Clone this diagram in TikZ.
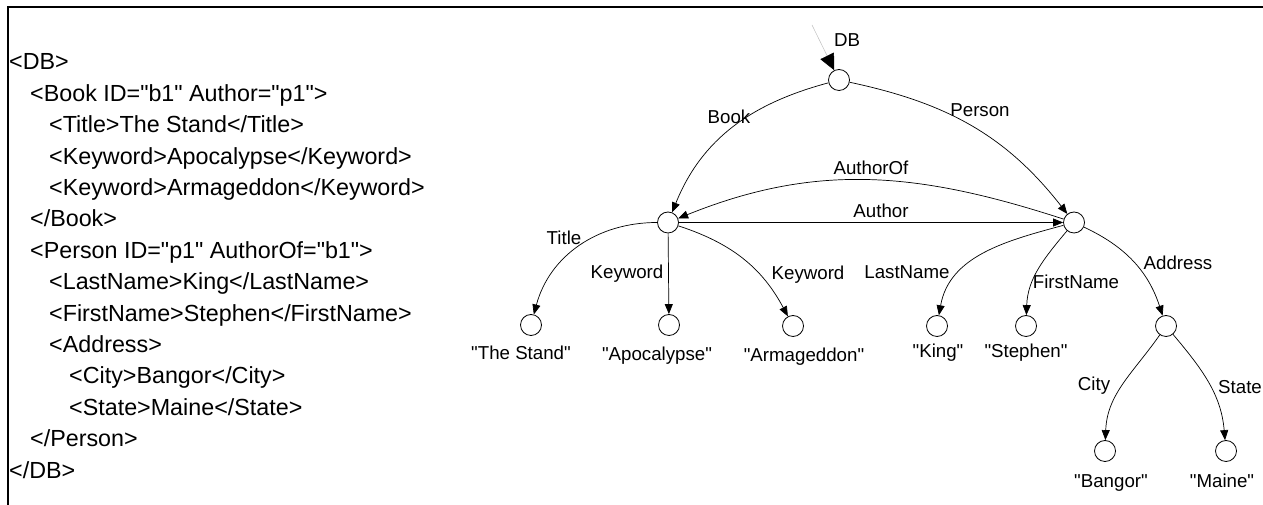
\documentclass[tikz,border=0pt]{standalone}
\usepackage{fontspec}
\setmainfont{Liberation Sans}
% plain families keep the ASCII double quote straight
\newfontfamily\xmlfont{Liberation Sans}
\newfontfamily\treefont{Liberation Sans}
\usetikzlibrary{arrows.meta}

\begin{document}
\begin{tikzpicture}[x=1pt,y=1pt,
  vertex/.style={circle,draw,line width=0.8pt,minimum size=21pt,inner sep=0pt},
  lbl/.style={font=\treefont\fontsize{18.7}{20}\selectfont,inner sep=0pt,text height=13.4pt,text depth=0pt},
  xml/.style={font=\xmlfont\fontsize{23.3}{26}\selectfont,anchor=base west,inner sep=0pt},
  link/.style={line width=0.7pt,-{Triangle[length=10pt,width=8pt]}},
]
\useasboundingbox (0,0) rectangle (1263,505);

% frame
\draw[line width=2.2pt] (8,0) -- (8,498) -- (1263,498);

% XML source
\node[xml] (x0)  at (9,435)    {<DB>};
\node[xml] (x1)  at (30,403.6) {<Book ID="b1" Author="p1">};
\node[xml] (x2)  at (49,372.2) {<Title>The Stand</Title>};
\node[xml] (x3)  at (49,340.8) {<Keyword>Apocalypse</Keyword>};
\node[xml] (x4)  at (49,309.4) {<Keyword>Armageddon</Keyword>};
\node[xml] (x5)  at (30,278)   {</Book>};
\node[xml] (x6)  at (30,246.6) {<Person ID="p1" AuthorOf="b1">};
\node[xml] (x7)  at (49,215.2) {<LastName>King</LastName>};
\node[xml] (x8)  at (49,183.8) {<FirstName>Stephen</FirstName>};
\node[xml] (x9)  at (49,152.4) {<Address>};
\node[xml] (x10) at (69,121)   {<City>Bangor</City>};
\node[xml] (x11) at (69,89.6)  {<State>Maine</State>};
\node[xml] (x12) at (30,58.2)  {</Person>};
\node[xml] (x13) at (9,26.8)   {</DB>};

% graph vertices
\node[vertex] (root)    at (839,425) {};
\node[vertex] (book)    at (668,282.5) {};
\node[vertex] (person)  at (1074,282.5) {};
\node[vertex] (stand)   at (531,180) {};
\node[vertex] (apoc)    at (669,180) {};
\node[vertex] (armag)   at (793,179) {};
\node[vertex] (king)    at (937,179) {};
\node[vertex] (stephen) at (1026,179) {};
\node[vertex] (address) at (1166,179) {};
\node[vertex] (bangor)  at (1105,54) {};
\node[vertex] (maine)   at (1226,54) {};

% entry arrow into the root
\coordinate (dbin) at (812,480);
\draw[black!25,line width=0.5pt,-{Triangle[length=16pt,width=15pt,black]}] (dbin) -- (root);
\node[lbl] (lDB) at (847,465) {DB};

% edges
\draw[link] (root) to[out=195,in=68] (book);
\draw[link] (root) to[out=-12,in=128] (person);
\draw[link] (person) to[out=162,in=22] (book);
\draw[link] (book) -- (person);
\draw[link] (book) to[out=180,in=75] (stand);
\draw[link] (book) -- (apoc);
\draw[link] (book) to[out=-18,in=118] (armag);
\draw[link] (person) to[out=195,in=80] (king);
\draw[link] (person) to[out=230,in=88] (stephen);
\draw[link] (person) to[out=-25,in=108] (address);
\draw[link] (address) to[out=235,in=88] (bangor);
\draw[link] (address) to[out=-50,in=95] (maine);

% edge labels
\node[lbl] (lBook)     at (729,388)  {Book};
\node[lbl] (lPerson)   at (980,395)  {Person};
\node[lbl] (lAuthorOf) at (871,337)  {AuthorOf};
\node[lbl] (lAuthor)   at (881,294)  {Author};
\node[lbl] (lTitle)    at (564,267)  {Title};
\node[lbl] (lKey1)     at (627,233)  {Keyword};
\node[lbl] (lKey2)     at (808,232)  {Keyword};
\node[lbl] (lLast)     at (907,233)  {LastName};
\node[lbl] (lFirst)    at (1076,223) {FirstName};
\node[lbl] (lAddr)     at (1178,242) {Address};
\node[lbl] (lCity)     at (1094,121) {City};
\node[lbl] (lState)    at (1240,118) {State};

% leaf values
\node[lbl] (vStand)   at (521,152)  {"The Stand"};
\node[lbl] (vApoc)    at (657,151)  {"Apocalypse"};
\node[lbl] (vArmag)   at (804,150)  {"Armageddon"};
\node[lbl] (vKing)    at (938,154)  {"King"};
\node[lbl] (vStephen) at (1026,154) {"Stephen"};
\node[lbl] (vBangor)  at (1111,24)  {"Bangor"};
\node[lbl] (vMaine)   at (1222,24)  {"Maine"};
\end{tikzpicture}
\end{document}
